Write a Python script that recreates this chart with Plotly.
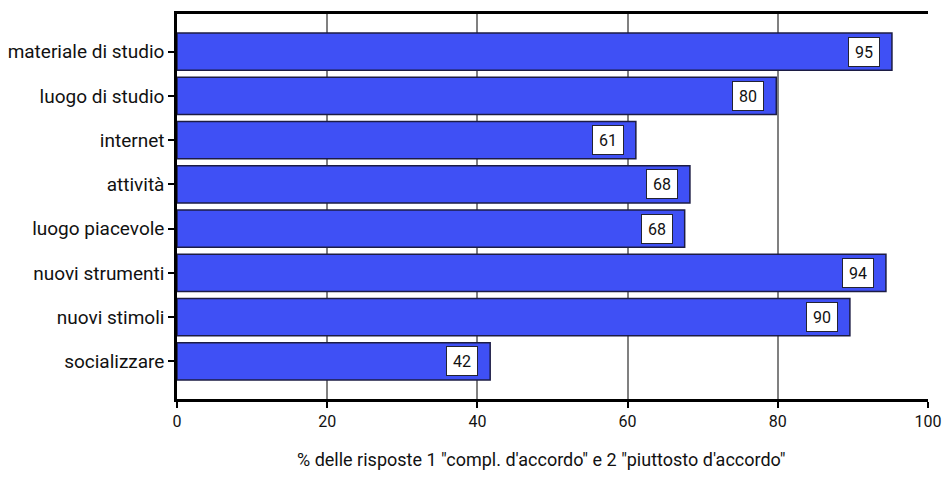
import plotly.graph_objects as go

# Survey items, top to bottom
categories = [
    "materiale di studio",
    "luogo di studio",
    "internet",
    "attività",
    "luogo piacevole",
    "nuovi strumenti",
    "nuovi stimoli",
    "socializzare",
]
# Share of answers 1 and 2 (percent)
values = [95.2, 79.8, 61.1, 68.3, 67.6, 94.4, 89.6, 41.7]
x_ticks = [0, 20, 40, 60, 80, 100]
x_title = '% delle risposte 1 "compl. d\'accordo" e 2 "piuttosto d\'accordo"'

FONT = "Roboto, 'Liberation Sans', Arial, sans-serif"

fig = go.Figure(
    go.Bar(
        y=categories,
        x=values,
        orientation="h",
        width=0.84,
        marker=dict(color="#3f50f5", line=dict(color="#1c1c44", width=1.5)),
        hoverinfo="skip",
    )
)

# Value boxes sitting just inside the end of each bar
for cat, val in zip(categories, values):
    fig.add_annotation(
        x=val, y=cat, xref="x", yref="y",
        text=f"{val:.0f}",
        showarrow=False,
        xanchor="right", yanchor="middle",
        xshift=-12,
        width=28, height=26,
        bgcolor="white", bordercolor="#222233", borderwidth=1, borderpad=1,
        font=dict(family=FONT, size=16, color="#111"),
    )

fig.add_annotation(
    x=0.485, y=-0.158, xref="paper", yref="paper",
    text=x_title, showarrow=False,
    xanchor="center", yanchor="middle",
    font=dict(family=FONT, size=18, color="#111"),
)

fig.update_layout(
    template="none",
    width=942, height=486,
    margin=dict(l=177, r=14, t=14, b=87, autoexpand=False),
    paper_bgcolor="white", plot_bgcolor="white",
    showlegend=False,
    font=dict(family=FONT, color="#111"),
    xaxis=dict(
        range=[0, 100],
        tickvals=x_ticks,
        ticks="outside", ticklen=6, tickwidth=2, tickcolor="black",
        tickfont=dict(size=16, family=FONT, color="#111"),
        showgrid=True, gridcolor="#808080", gridwidth=1.5,
        showline=True, linecolor="black", linewidth=2.5, mirror=True,
        zeroline=False, automargin=False,
        fixedrange=True,
    ),
    yaxis=dict(
        range=[7.85, -0.85],
        ticks="outside", ticklen=6, tickwidth=2, tickcolor="black",
        tickfont=dict(size=19, family=FONT, color="#111"),
        showgrid=False,
        showline=True, linecolor="black", linewidth=2.5,
        zeroline=False, automargin=False,
        fixedrange=True,
    ),
)

fig.write_html("out.html")
